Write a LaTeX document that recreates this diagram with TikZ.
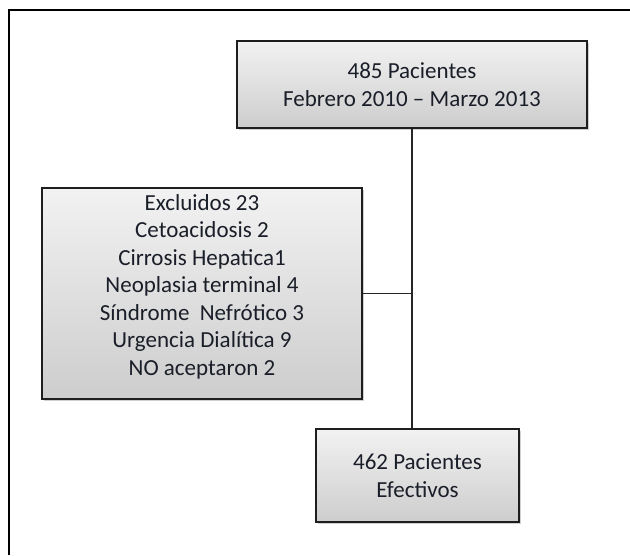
\documentclass[tikz,border=0pt]{standalone}
\usepackage{fontspec}
\setmainfont{Carlito}
\usepackage{xcolor}
\usepackage{tikz}
\usetikzlibrary{positioning,shadows}

\definecolor{boxtop}{HTML}{F2F2F2}
\definecolor{boxbot}{HTML}{CDCDCD}
\definecolor{boxline}{HTML}{1E1E1E}
\definecolor{txtcol}{HTML}{1A1E28}

\begin{document}
\begin{tikzpicture}[
  x=1pt, y=-1pt,
  every node/.style={font=\fontsize{23}{27.5}\selectfont, text=txtcol},
  flowbox/.style={draw=boxline, line width=1.6pt, align=center, inner sep=0pt,
    top color=boxtop, bottom color=boxbot,
    drop shadow={shadow xshift=1.5pt, shadow yshift=-1.5pt, fill=gray!60, opacity=0.6}},
  link/.style={line width=1.2pt, draw=black!85}
]
\useasboundingbox[fill=white] (0,0) rectangle (630,555);
% frame
\draw[line width=2.2pt] (9,555) -- (9,10) -- (630,10);

\node[flowbox, minimum width=350pt, minimum height=87pt] (total) at (412,84.5)
  {485 Pacientes\\Febrero 2010 -- Marzo 2013};
\node[flowbox, minimum width=320pt, minimum height=211pt, text depth=17pt] (excl) at (202,293.5)
  {Excluidos 23\\Cetoacidosis 2\\Cirrosis Hepatica1\\Neoplasia terminal 4\\
   Síndrome~ Nefrótico 3\\Urgencia Dialítica 9\\NO aceptaron 2};
\node[flowbox, minimum width=203pt, minimum height=93pt] (final) at (417.5,475.5)
  {462 Pacientes\\Efectivos};

\coordinate (split) at (excl.east -| total.south);
\draw[link] (total.south) -- (total.south |- final.north);
\draw[link] (excl.east) -- (split);
\end{tikzpicture}
\end{document}
